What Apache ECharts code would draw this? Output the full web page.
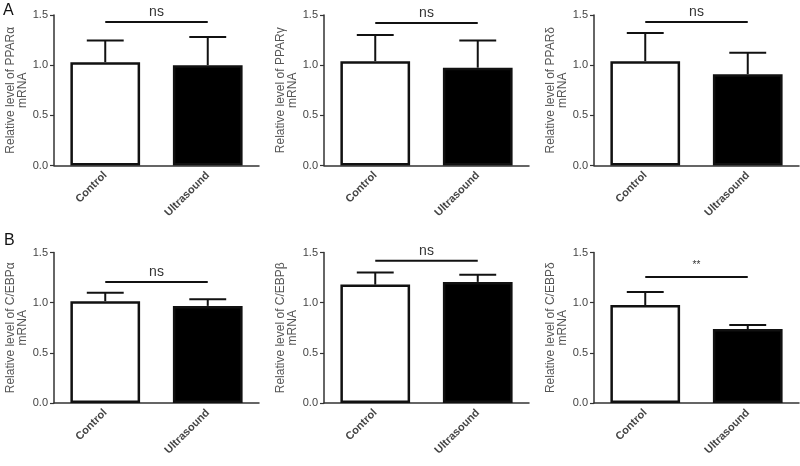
<!DOCTYPE html>
<html>
<head>
<meta charset="utf-8">
<script src="https://cdn.jsdelivr.net/npm/echarts@6/dist/echarts.min.js"></script>
<style>html,body{margin:0;padding:0;background:#fff}#c{width:800px;height:466px}</style>
</head>
<body>
<div id="c"></div>
<script>
const categories = ['Control', 'Ultrasound'];
const genes = ['PPARα', 'PPARγ', 'PPARδ', 'C/EBPα', 'C/EBPβ', 'C/EBPδ'];
const controlMean = [1.03, 1.04, 1.04, 1.015, 1.18, 0.977];
const controlUpper = [1.245, 1.30, 1.32, 1.10, 1.30, 1.107];
const ultrasoundMean = [1.00, 0.975, 0.91, 0.968, 1.207, 0.737];
const ultrasoundUpper = [1.28, 1.245, 1.125, 1.035, 1.277, 0.777];
const sigLevel = [1.43, 1.42, 1.43, 1.205, 1.417, 1.255];
const sigLabel = ['ns', 'ns', 'ns', 'ns', 'ns', '**'];
const yMin = 0, yMax = 1.5, yStep = 0.5;
const panelLetters = ['A', 'B'];

const FONT = 'Liberation Sans, Arial, sans-serif';
const lefts = [54, 324, 594];
const tops = [15, 252.5];
const gw = 205, gh = 150.5;

const grid = [], xAxis = [], yAxis = [], series = [];
for (let i = 0; i < 6; i++) {
  const col = i % 3, row = Math.floor(i / 3);
  grid.push({ left: lefts[col], top: tops[row], width: gw, height: gh });
  xAxis.push({
    type: 'category', gridIndex: i, data: categories,
    axisLine: { lineStyle: { color: '#333', width: 1.5 } },
    axisTick: { alignWithLabel: true, length: 4, lineStyle: { color: '#333', width: 1.2 } },
    axisLabel: { rotate: 45, fontSize: 11, fontWeight: 'bold', color: '#444', margin: 8, fontFamily: FONT }
  });
  yAxis.push({
    type: 'value', gridIndex: i, min: yMin, max: yMax, interval: yStep,
    name: 'Relative level of ' + genes[i] + '\nmRNA',
    nameLocation: 'middle', nameGap: 16,
    nameTextStyle: { fontSize: 12, color: '#555', fontFamily: FONT, lineHeight: 12 },
    splitLine: { show: false },
    axisLine: { show: true, lineStyle: { color: '#333', width: 1.5 } },
    axisTick: { show: true, length: 4, lineStyle: { color: '#333', width: 1.2 } },
    axisLabel: { fontSize: 11, color: '#444', margin: 6, fontFamily: FONT, formatter: v => v.toFixed(1) }
  });
  series.push({
    type: 'bar', xAxisIndex: i, yAxisIndex: i, barWidth: '68%',
    data: [
      { value: controlMean[i], itemStyle: { color: '#ffffff', borderColor: '#111', borderWidth: 2.5 } },
      { value: ultrasoundMean[i], itemStyle: { color: '#000000', borderColor: '#111', borderWidth: 2.5 } }
    ],
    silent: true, z: 2
  });
  series.push({
    type: 'custom', xAxisIndex: i, yAxisIndex: i, z: 3, silent: true,
    data: [[0, controlMean[i], controlUpper[i]], [1, ultrasoundMean[i], ultrasoundUpper[i]]],
    renderItem: function (params, api) {
      const x = api.value(0);
      const p0 = api.coord([x, api.value(1)]);
      const p1 = api.coord([x, api.value(2)]);
      const hw = api.size([1, 0])[0] * 0.18;
      return {
        type: 'group', children: [
          { type: 'line', shape: { x1: p0[0], y1: p0[1], x2: p1[0], y2: p1[1] }, style: { stroke: '#111', lineWidth: 2 } },
          { type: 'line', shape: { x1: p1[0] - hw, y1: p1[1], x2: p1[0] + hw, y2: p1[1] }, style: { stroke: '#111', lineWidth: 2 } }
        ]
      };
    }
  });
  series.push({
    type: 'custom', xAxisIndex: i, yAxisIndex: i, z: 3, silent: true,
    data: [[sigLevel[i]]],
    renderItem: (function (idx) {
      return function (params, api) {
        const a = api.coord([0, api.value(0)]);
        const b = api.coord([1, api.value(0)]);
        const isStar = sigLabel[idx] !== 'ns';
        return {
          type: 'group', children: [
            { type: 'line', shape: { x1: a[0], y1: a[1], x2: b[0], y2: b[1] }, style: { stroke: '#111', lineWidth: 2 } },
            { type: 'text', x: (a[0] + b[0]) / 2, y: a[1] - (isStar ? 7 : 3),
              style: { text: sigLabel[idx], fill: '#333', fontSize: isStar ? 10 : 14, fontFamily: FONT,
                       textAlign: 'center', textVerticalAlign: 'bottom' } }
          ]
        };
      };
    })(i)
  });
}

const chart = echarts.init(document.getElementById('c'), null, { renderer: 'canvas' });
chart.setOption({
  animation: false,
  backgroundColor: '#ffffff',
  graphic: [
    { type: 'text', left: 3, top: 3, style: { text: panelLetters[0], fontSize: 16, fill: '#111', fontFamily: FONT } },
    { type: 'text', left: 4, top: 233, style: { text: panelLetters[1], fontSize: 16, fill: '#111', fontFamily: FONT } }
  ],
  grid, xAxis, yAxis, series
});
</script>
</body>
</html>
